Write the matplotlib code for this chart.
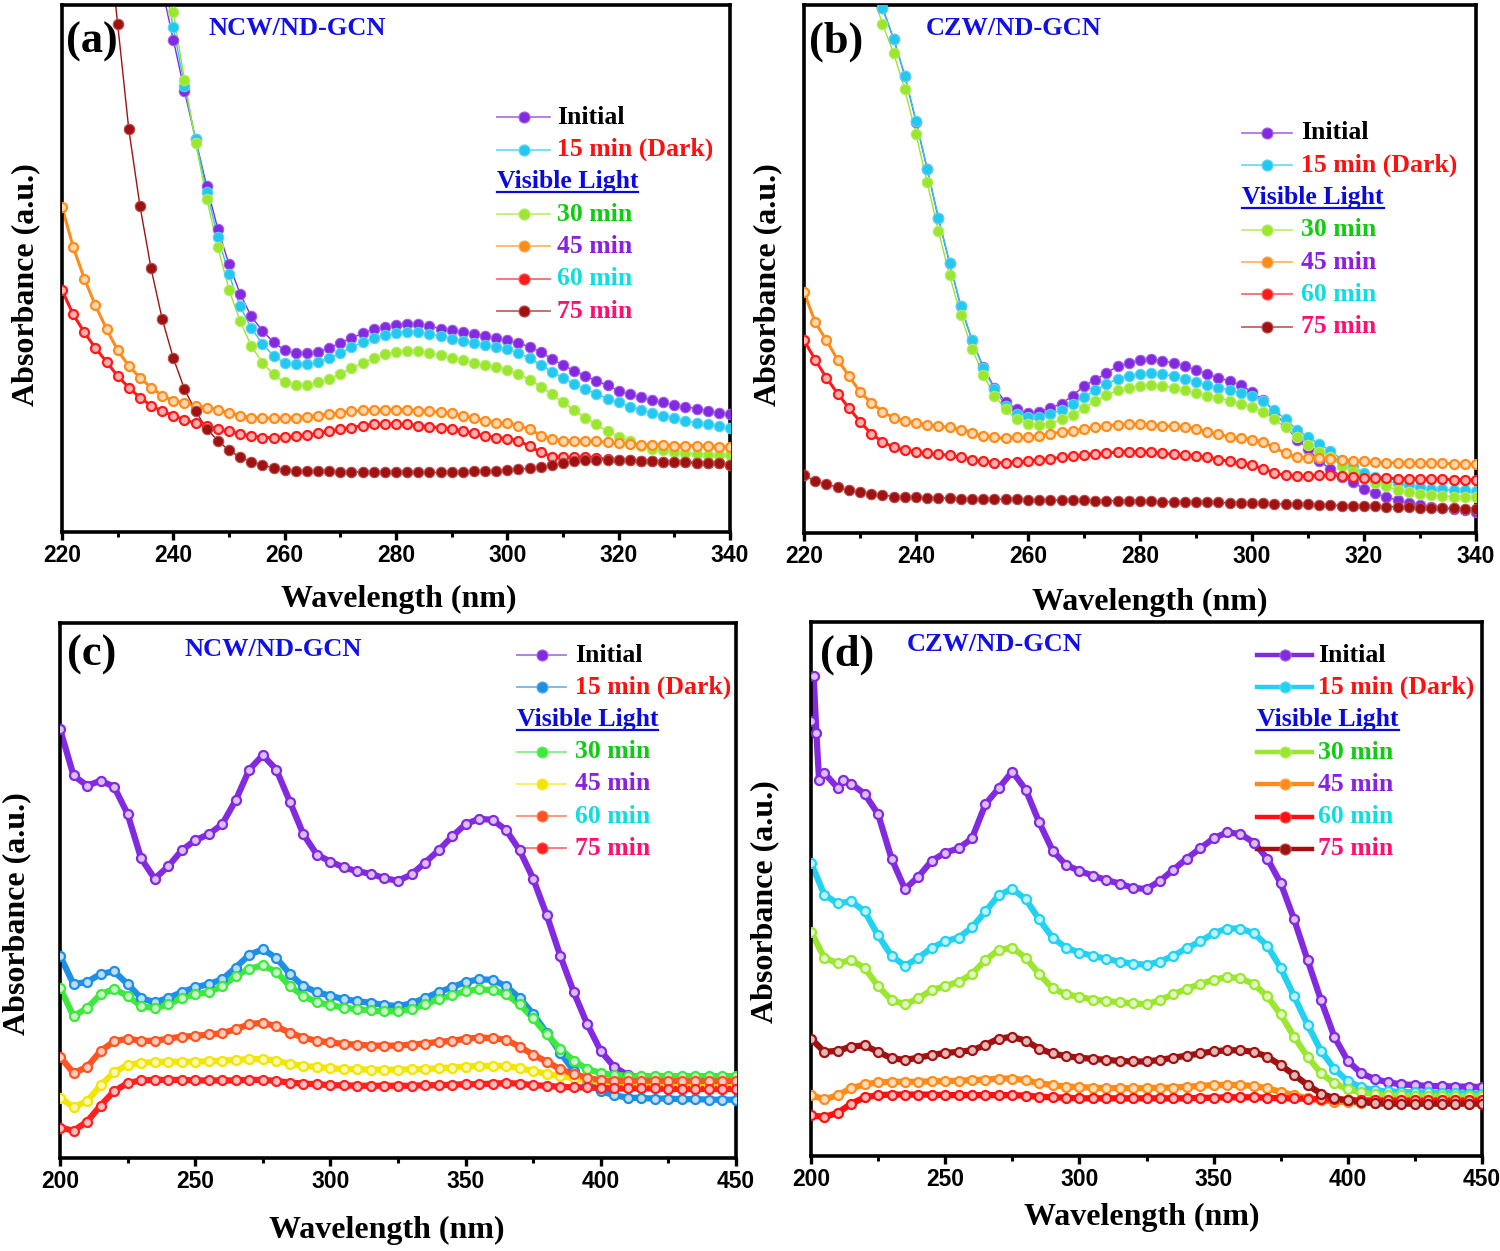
import matplotlib
matplotlib.use("Agg")
import matplotlib.pyplot as plt
import numpy as np

nan = np.nan

# ---------------- data (absorbance, arbitrary units) ----------------
wl_ab = np.arange(220, 341, 2)
wl_cd = np.arange(200, 451, 5)
wl_d_init = [200, 201, 202, 203, 205, 210, 212, 215] + list(range(220, 451, 5))

series_names = ["Initial", "15 min (Dark)", "30 min", "45 min", "60 min", "75 min"]

# (a) NCW/ND-GCN, 220-340 nm
a_init = [nan] * 9 + [1.03, 0.934, 0.837, 0.745, 0.656, 0.575, 0.508, 0.452, 0.409, 0.382, 0.360,
                      0.345, 0.339, 0.339, 0.342, 0.349, 0.359, 0.368, 0.377, 0.385, 0.389,
                      0.392, 0.394, 0.394, 0.391, 0.386, 0.383, 0.379, 0.376, 0.372, 0.368,
                      0.364, 0.359, 0.351, 0.342, 0.328, 0.317, 0.306, 0.296, 0.287, 0.278,
                      0.268, 0.262, 0.256, 0.251, 0.246, 0.241, 0.238, 0.234, 0.230, 0.226, 0.223]
a_dark = [nan] * 9 + [1.06, 0.958, 0.847, 0.745, 0.646, 0.560, 0.489, 0.428, 0.387, 0.357, 0.334,
                      0.321, 0.319, 0.319, 0.323, 0.330, 0.339, 0.351, 0.360, 0.368, 0.374,
                      0.377, 0.379, 0.379, 0.376, 0.372, 0.367, 0.362, 0.359, 0.354, 0.351,
                      0.347, 0.339, 0.330, 0.317, 0.304, 0.293, 0.281, 0.271, 0.262, 0.253,
                      0.246, 0.238, 0.232, 0.226, 0.221, 0.216, 0.211, 0.207, 0.204, 0.201, 0.198]
a_30 = [nan] * 9 + [1.10, 0.986, 0.858, 0.738, 0.632, 0.540, 0.460, 0.400, 0.353, 0.321, 0.299,
                    0.284, 0.278, 0.279, 0.284, 0.291, 0.300, 0.311, 0.321, 0.330, 0.338,
                    0.342, 0.344, 0.343, 0.339, 0.336, 0.330, 0.326, 0.321, 0.317, 0.314,
                    0.308, 0.300, 0.289, 0.276, 0.261, 0.246, 0.231, 0.217, 0.204, 0.191,
                    0.181, 0.172, 0.164, 0.158, 0.155, 0.152, 0.149, 0.148, 0.147, 0.146, 0.146]
a_45 = [0.617, 0.541, 0.481, 0.430, 0.385, 0.345, 0.315, 0.293, 0.274, 0.259,
        0.249, 0.244, 0.240, 0.236, 0.232, 0.226, 0.221, 0.217, 0.216, 0.216,
        0.216, 0.217, 0.219, 0.221, 0.223, 0.226, 0.229, 0.231, 0.232, 0.232,
        0.232, 0.232, 0.230, 0.229, 0.227, 0.225, 0.221, 0.216, 0.211, 0.207,
        0.206, 0.202, 0.195, 0.183, 0.176, 0.173, 0.173, 0.173, 0.172, 0.170,
        0.168, 0.167, 0.166, 0.166, 0.165, 0.164, 0.164, 0.164, 0.163, 0.162, 0.162]
a_60 = [0.459, 0.413, 0.379, 0.349, 0.323, 0.296, 0.274, 0.255, 0.240, 0.229,
        0.221, 0.213, 0.206, 0.201, 0.196, 0.191, 0.186, 0.182, 0.179, 0.179,
        0.180, 0.182, 0.184, 0.187, 0.191, 0.195, 0.198, 0.202, 0.204, 0.205,
        0.205, 0.204, 0.202, 0.200, 0.198, 0.196, 0.192, 0.187, 0.182, 0.179,
        0.177, 0.173, 0.163, 0.151, 0.143, 0.142, 0.142, 0.142, 0.140, 0.138,
        0.137, 0.136, 0.134, 0.134, 0.133, 0.133, 0.132, 0.131, 0.130, 0.130, 0.128]
a_75 = [nan, nan, nan, nan, 1.16, 0.964, 0.764, 0.619, 0.500, 0.404,
        0.330, 0.271, 0.229, 0.196, 0.173, 0.155, 0.142, 0.133, 0.128, 0.121,
        0.118, 0.116, 0.115, 0.115, 0.115, 0.114, 0.114, 0.114, 0.114, 0.113,
        0.113, 0.113, 0.113, 0.113, 0.113, 0.113, 0.114, 0.115, 0.115, 0.116,
        0.118, 0.119, 0.121, 0.123, 0.127, 0.130, 0.134, 0.136, 0.137, 0.137,
        0.137, 0.136, 0.135, 0.134, 0.133, 0.133, 0.132, 0.131, 0.130, 0.130, 0.128]

# (b) CZW/ND-GCN, 220-340 nm
b_init = [nan] * 6 + [1.05, 0.995, 0.936, 0.866,
                      0.779, 0.689, 0.596, 0.511, 0.429, 0.365, 0.315, 0.275, 0.248, 0.235,
                      0.227, 0.230, 0.237, 0.245, 0.260, 0.279, 0.290, 0.303, 0.316, 0.322,
                      0.328, 0.329, 0.326, 0.322, 0.316, 0.309, 0.301, 0.294, 0.288, 0.280,
                      0.267, 0.252, 0.230, 0.203, 0.177, 0.160, 0.136, 0.122, 0.107, 0.096,
                      0.084, 0.075, 0.068, 0.062, 0.056, 0.053, 0.050, 0.047, 0.045, 0.043, 0.040]
b_dark = [nan] * 6 + [1.05, 0.995, 0.936, 0.866,
                      0.781, 0.690, 0.597, 0.512, 0.430, 0.366, 0.313, 0.272, 0.241, 0.226,
                      0.220, 0.220, 0.226, 0.233, 0.245, 0.258, 0.270, 0.282, 0.292, 0.297,
                      0.301, 0.303, 0.301, 0.297, 0.292, 0.286, 0.280, 0.275, 0.271, 0.265,
                      0.260, 0.250, 0.233, 0.215, 0.196, 0.181, 0.169, 0.156, 0.139, 0.127,
                      0.114, 0.107, 0.099, 0.094, 0.090, 0.087, 0.084, 0.083, 0.081, 0.081, 0.079]
b_30 = [nan] * 6 + [1.03, 0.964, 0.909, 0.840,
                    0.755, 0.664, 0.572, 0.488, 0.412, 0.349, 0.300, 0.260, 0.235, 0.215,
                    0.207, 0.205, 0.207, 0.215, 0.224, 0.237, 0.250, 0.261, 0.270, 0.275,
                    0.279, 0.280, 0.279, 0.275, 0.270, 0.265, 0.260, 0.256, 0.250, 0.245,
                    0.239, 0.230, 0.215, 0.200, 0.182, 0.167, 0.154, 0.143, 0.127, 0.117,
                    0.105, 0.094, 0.089, 0.081, 0.077, 0.074, 0.072, 0.070, 0.069, 0.069, 0.068]
b_45 = [0.456, 0.399, 0.365, 0.328, 0.298, 0.267, 0.247, 0.230, 0.218, 0.212,
        0.209, 0.205, 0.202, 0.200, 0.196, 0.190, 0.184, 0.181, 0.179, 0.181,
        0.182, 0.184, 0.188, 0.191, 0.194, 0.197, 0.200, 0.203, 0.205, 0.206,
        0.206, 0.205, 0.203, 0.202, 0.200, 0.197, 0.192, 0.187, 0.182, 0.179,
        0.177, 0.172, 0.162, 0.151, 0.143, 0.142, 0.142, 0.141, 0.139, 0.137,
        0.136, 0.134, 0.133, 0.133, 0.133, 0.133, 0.132, 0.132, 0.131, 0.131, 0.130]
b_60 = [0.365, 0.328, 0.294, 0.264, 0.237, 0.211, 0.188, 0.173, 0.162, 0.157,
        0.153, 0.151, 0.149, 0.147, 0.143, 0.139, 0.136, 0.133, 0.133, 0.134,
        0.136, 0.138, 0.141, 0.143, 0.145, 0.148, 0.150, 0.152, 0.153, 0.154,
        0.154, 0.153, 0.151, 0.149, 0.148, 0.146, 0.143, 0.139, 0.136, 0.132,
        0.128, 0.122, 0.114, 0.109, 0.108, 0.108, 0.109, 0.109, 0.108, 0.107,
        0.105, 0.105, 0.104, 0.103, 0.103, 0.102, 0.102, 0.102, 0.101, 0.101, 0.101]
b_75 = [0.109, 0.099, 0.092, 0.087, 0.081, 0.077, 0.074, 0.072, 0.069, 0.068,
        0.068, 0.066, 0.066, 0.066, 0.065, 0.065, 0.065, 0.064, 0.064, 0.064,
        0.063, 0.063, 0.063, 0.062, 0.062, 0.062, 0.061, 0.061, 0.061, 0.060,
        0.060, 0.060, 0.059, 0.059, 0.059, 0.058, 0.058, 0.058, 0.057, 0.057,
        0.056, 0.056, 0.055, 0.055, 0.054, 0.054, 0.053, 0.053, 0.052, 0.052,
        0.051, 0.051, 0.050, 0.050, 0.049, 0.048, 0.048, 0.047, 0.047, 0.046, 0.045]

# (c) NCW/ND-GCN, 200-450 nm
c_init = [0.802, 0.715, 0.696, 0.705, 0.694, 0.643, 0.560, 0.522, 0.545, 0.575,
          0.594, 0.605, 0.624, 0.669, 0.726, 0.753, 0.726, 0.666, 0.605, 0.567,
          0.554, 0.543, 0.536, 0.531, 0.523, 0.518, 0.530, 0.552, 0.575, 0.601,
          0.624, 0.634, 0.632, 0.613, 0.575, 0.522, 0.454, 0.378, 0.310, 0.250,
          0.200, 0.170, 0.155, 0.148, 0.145, 0.144, 0.142, 0.141, 0.141, 0.140, 0.140]
c_dark = [0.378, 0.325, 0.329, 0.344, 0.349, 0.325, 0.299, 0.291, 0.299, 0.310,
          0.319, 0.325, 0.334, 0.356, 0.380, 0.390, 0.374, 0.344, 0.321, 0.310,
          0.303, 0.297, 0.293, 0.290, 0.286, 0.284, 0.289, 0.299, 0.310, 0.319,
          0.329, 0.334, 0.333, 0.321, 0.299, 0.269, 0.234, 0.197, 0.163, 0.140,
          0.125, 0.117, 0.113, 0.112, 0.111, 0.111, 0.110, 0.110, 0.109, 0.109, 0.109]
c_30 = [0.318, 0.265, 0.280, 0.306, 0.316, 0.303, 0.284, 0.280, 0.287, 0.299,
        0.306, 0.310, 0.321, 0.340, 0.354, 0.360, 0.348, 0.321, 0.303, 0.291,
        0.286, 0.281, 0.278, 0.276, 0.274, 0.274, 0.278, 0.287, 0.297, 0.304,
        0.312, 0.315, 0.314, 0.306, 0.287, 0.261, 0.231, 0.204, 0.182, 0.166,
        0.159, 0.155, 0.154, 0.153, 0.153, 0.153, 0.153, 0.153, 0.153, 0.153, 0.153]
c_45 = [0.113, 0.095, 0.106, 0.136, 0.160, 0.174, 0.178, 0.179, 0.180, 0.180,
        0.180, 0.181, 0.182, 0.183, 0.185, 0.185, 0.182, 0.176, 0.172, 0.170,
        0.168, 0.166, 0.166, 0.165, 0.165, 0.165, 0.166, 0.166, 0.168, 0.169,
        0.171, 0.172, 0.172, 0.172, 0.168, 0.163, 0.157, 0.153, 0.149, 0.145,
        0.142, 0.140, 0.139, 0.138, 0.138, 0.137, 0.137, 0.137, 0.136, 0.136, 0.136]
c_60 = [0.189, 0.159, 0.170, 0.200, 0.218, 0.223, 0.219, 0.219, 0.223, 0.227,
        0.228, 0.231, 0.233, 0.241, 0.250, 0.253, 0.246, 0.234, 0.225, 0.219,
        0.216, 0.213, 0.212, 0.210, 0.210, 0.210, 0.212, 0.214, 0.217, 0.219,
        0.223, 0.225, 0.224, 0.221, 0.208, 0.193, 0.180, 0.166, 0.157, 0.150,
        0.145, 0.144, 0.144, 0.144, 0.144, 0.144, 0.144, 0.144, 0.144, 0.144, 0.144]
c_75 = [0.057, 0.051, 0.068, 0.098, 0.125, 0.140, 0.145, 0.146, 0.146, 0.146,
        0.145, 0.145, 0.145, 0.145, 0.146, 0.146, 0.144, 0.141, 0.139, 0.138,
        0.136, 0.136, 0.135, 0.135, 0.135, 0.135, 0.135, 0.136, 0.136, 0.137,
        0.138, 0.138, 0.139, 0.140, 0.139, 0.136, 0.135, 0.133, 0.132, 0.132,
        0.131, 0.130, 0.130, 0.130, 0.130, 0.129, 0.129, 0.129, 0.129, 0.129, 0.129]

# (d) CZW/ND-GCN, 200-450 nm
d_init = [0.814, 0.898, 0.792, 0.705, 0.717, 0.689, 0.705, 0.697,
          0.678, 0.640, 0.557, 0.500, 0.523, 0.553, 0.568, 0.576, 0.595, 0.659,
          0.689, 0.720, 0.686, 0.625, 0.572, 0.545, 0.534, 0.525, 0.517, 0.510,
          0.502, 0.500, 0.515, 0.536, 0.557, 0.576, 0.595, 0.606, 0.603, 0.587,
          0.557, 0.511, 0.443, 0.367, 0.292, 0.223, 0.178, 0.155, 0.144, 0.138,
          0.134, 0.133, 0.131, 0.131, 0.130, 0.130, 0.129]
d_dark = [0.549, 0.489, 0.473, 0.477, 0.458, 0.413, 0.375, 0.356, 0.371, 0.390,
          0.402, 0.409, 0.428, 0.458, 0.489, 0.500, 0.481, 0.443, 0.409, 0.390,
          0.381, 0.375, 0.369, 0.364, 0.360, 0.358, 0.364, 0.375, 0.389, 0.402,
          0.417, 0.426, 0.426, 0.417, 0.394, 0.352, 0.299, 0.246, 0.197, 0.163,
          0.140, 0.129, 0.123, 0.121, 0.120, 0.119, 0.119, 0.118, 0.118, 0.117, 0.117]
d_30 = [0.420, 0.371, 0.361, 0.367, 0.352, 0.318, 0.292, 0.284, 0.295, 0.311,
        0.318, 0.326, 0.341, 0.367, 0.386, 0.390, 0.371, 0.341, 0.314, 0.303,
        0.298, 0.293, 0.290, 0.288, 0.286, 0.284, 0.292, 0.303, 0.313, 0.322,
        0.330, 0.335, 0.333, 0.322, 0.299, 0.265, 0.223, 0.186, 0.155, 0.136,
        0.125, 0.119, 0.116, 0.114, 0.114, 0.113, 0.113, 0.113, 0.112, 0.112, 0.112]
d_45 = [0.114, 0.106, 0.114, 0.127, 0.134, 0.138, 0.139, 0.139, 0.139, 0.140,
        0.140, 0.141, 0.142, 0.143, 0.145, 0.145, 0.142, 0.136, 0.133, 0.130,
        0.129, 0.128, 0.127, 0.127, 0.127, 0.127, 0.128, 0.128, 0.130, 0.131,
        0.133, 0.133, 0.133, 0.131, 0.127, 0.120, 0.114, 0.108, 0.105, 0.102,
        0.101, 0.100, 0.099, 0.099, 0.099, 0.099, 0.098, 0.098, 0.098, 0.098, 0.098]
d_60 = [0.076, 0.073, 0.081, 0.098, 0.110, 0.114, 0.115, 0.115, 0.115, 0.115,
        0.114, 0.114, 0.114, 0.114, 0.114, 0.114, 0.113, 0.111, 0.110, 0.109,
        0.108, 0.108, 0.108, 0.108, 0.108, 0.108, 0.108, 0.108, 0.108, 0.109,
        0.109, 0.110, 0.110, 0.110, 0.109, 0.108, 0.108, 0.107, 0.106, 0.106,
        0.105, 0.104, 0.104, 0.104, 0.104, 0.104, 0.104, 0.104, 0.104, 0.104, 0.104]
d_75 = [0.220, 0.195, 0.197, 0.205, 0.207, 0.195, 0.183, 0.180, 0.184, 0.189,
        0.193, 0.195, 0.198, 0.208, 0.220, 0.223, 0.216, 0.201, 0.192, 0.187,
        0.184, 0.182, 0.180, 0.178, 0.177, 0.177, 0.180, 0.184, 0.188, 0.192,
        0.196, 0.198, 0.198, 0.195, 0.186, 0.170, 0.152, 0.133, 0.117, 0.108,
        0.104, 0.101, 0.099, 0.098, 0.098, 0.098, 0.098, 0.098, 0.098, 0.098, 0.098]

# ---------------- style ----------------
SERIF = "Liberation Serif"
SANS = "Liberation Sans"

purple = "#8329e0"
colors_ab = [purple, "#22c8f0", "#9be62e", "#ff8c1a", "#ff1a1a", "#a01212"]
colors_c = [purple, "#1e8fe6", "#3ee83e", "#f2e600", "#ff5522", "#ff2020"]
colors_d = [purple, "#22d2f0", "#9be62e", "#ff8c1a", "#ff1010", "#a01212"]

legend_text_colors = ["black", "#ff1010", "#10cc10", "#8a20e0", "#10dde0", "#ff1070"]


def lighten(c, f):
    rgb = np.array(matplotlib.colors.to_rgb(c))
    return tuple(rgb + (1 - rgb) * f)


def draw_series(ax, x, y, color, kind):
    if kind == "bead":
        ax.plot(x, y, "-", color=color, lw=1.0, zorder=2)
        ax.plot(x, y, "o", ms=7.5, mfc=color, mec=lighten(color, 0.25), mew=0.8, zorder=3)
    elif kind == "ring":
        ax.plot(x, y, "-", color=color, lw=2.2, zorder=2)
        ax.plot(x, y, "o", ms=6.5, mfc=lighten(color, 0.65), mec=color, mew=1.6, zorder=3)
    else:  # thick ring band for the wide-range spectra
        ax.plot(x, y, "-", color=color, lw=4.5, zorder=2)
        ax.plot(x, y, "o", ms=6.5, mfc=lighten(color, 0.7), mec=color, mew=1.6, zorder=3)


def draw_legend(ax, colors, x0, x1, xt, ytop, dy, thick):
    rows = [0, 1, None, 2, 3, 4, 5]
    for r, idx in enumerate(rows):
        yy = ytop - r * dy
        if idx is None:
            t = ax.text(x0, yy, "Visible Light", transform=ax.transAxes, fontsize=18.5,
                        fontweight="bold", family=SERIF, color="#0a0ae0", va="center", ha="left")
            fig.canvas.draw()
            bb = t.get_window_extent(fig.canvas.get_renderer()).transformed(ax.transAxes.inverted())
            ax.plot([bb.x0, bb.x1], [bb.y0 + 0.002] * 2, color="#0a0ae0", lw=1.6,
                    transform=ax.transAxes, clip_on=False)
            continue
        c = colors[idx]
        if thick:
            ax.plot([x0, x1], [yy, yy], color=c, lw=3.2, transform=ax.transAxes, clip_on=False)
        else:
            ax.plot([x0, x1], [yy, yy], color=lighten(c, 0.35), lw=1.3, transform=ax.transAxes,
                    clip_on=False)
        ax.plot([(x0 + x1) / 2], [yy], "o", ms=8, mfc=c, mec=lighten(c, 0.3), mew=0.8,
                transform=ax.transAxes, clip_on=False)
        ax.text(xt, yy, series_names[idx], transform=ax.transAxes, fontsize=18.5,
                fontweight="bold", family=SERIF, color=legend_text_colors[idx],
                va="center", ha="left")


def setup_axes(ax, xlim, major, minor, letter, name, name_xy, letter_xy, xlab_xy, ylab_xy):
    ax.set_xlim(*xlim)
    ax.set_ylim(0, 1)
    ax.set_yticks([])
    ax.set_xticks(np.arange(xlim[0], xlim[1] + 1, major))
    ax.set_xticks(np.arange(xlim[0] + minor, xlim[1], major), minor=True)
    ax.tick_params(axis="x", which="major", direction="out", length=6, width=2.4, pad=3,
                   labelsize=16.5, top=False)
    ax.tick_params(axis="x", which="minor", direction="out", length=3.5, width=2.2, top=False)
    for lab in ax.get_xticklabels():
        lab.set_fontweight("bold")
        lab.set_family(SANS)
    for sp in ax.spines.values():
        sp.set_linewidth(2.6)
    ax.set_xlabel("Wavelength (nm)", fontsize=23, fontweight="bold", family=SERIF)
    ax.xaxis.set_label_coords(*xlab_xy)
    ax.set_ylabel("Absorbance (a.u.)", fontsize=23, fontweight="bold", family=SERIF)
    ax.yaxis.set_label_coords(*ylab_xy)
    ax.text(*letter_xy, letter, transform=ax.transAxes, fontsize=32, fontweight="bold",
            family=SERIF, ha="center", va="center")
    ax.text(*name_xy, name, transform=ax.transAxes, fontsize=19, fontweight="bold",
            family=SERIF, color="#1010e6", ha="center", va="center")


W, H = 1500, 1251
fig = plt.figure(figsize=(W / 100, H / 100), dpi=100)


def px_rect(left, right, top, bottom):
    return [left / W, 1 - bottom / H, (right - left) / W, (bottom - top) / H]


ax_a = fig.add_axes(px_rect(62, 730, 5, 532))
ax_b = fig.add_axes(px_rect(804, 1476, 5, 533))
ax_c = fig.add_axes(px_rect(60, 736, 623, 1158))
ax_d = fig.add_axes(px_rect(811, 1482, 622, 1156))

# panel (a)
for y, c, k in zip([a_init, a_dark, a_30, a_45, a_60, a_75], colors_ab,
                   ["bead", "bead", "bead", "ring", "ring", "bead"]):
    draw_series(ax_a, wl_ab, y, c, k)
setup_axes(ax_a, (220, 340), 20, 10, "(a)", "NCW/ND-GCN", (0.352, 0.956), (0.045, 0.93),
           (0.504, -0.10), (-0.033, 0.47))
draw_legend(ax_a, colors_ab, 0.651, 0.731, 0.741, 0.787, 0.0613, False)

# panel (b)
for y, c, k in zip([b_init, b_dark, b_30, b_45, b_60, b_75], colors_ab,
                   ["bead", "bead", "bead", "ring", "ring", "bead"]):
    draw_series(ax_b, wl_ab, y, c, k)
setup_axes(ax_b, (220, 340), 20, 10, "(b)", "CZW/ND-GCN", (0.3125, 0.956), (0.048, 0.93),
           (0.515, -0.104), (-0.033, 0.47))
draw_legend(ax_b, colors_ab, 0.652, 0.726, 0.740, 0.758, 0.0612, False)

# panel (c)
for y, c in zip([c_init, c_dark, c_30, c_45, c_60, c_75], colors_c):
    draw_series(ax_c, wl_cd, y, c, "band")
setup_axes(ax_c, (200, 450), 50, 25, "(c)", "NCW/ND-GCN", (0.315, 0.95), (0.047, 0.94),
           (0.484, -0.109), (-0.042, 0.456))
draw_legend(ax_c, colors_c, 0.676, 0.749, 0.762, 0.940, 0.0602, False)

# panel (d)
draw_series(ax_d, wl_d_init, d_init, colors_d[0], "band")
for y, c in zip([d_dark, d_30, d_45, d_60, d_75], colors_d[1:]):
    draw_series(ax_d, wl_cd, y, c, "band")
setup_axes(ax_d, (200, 450), 50, 25, "(d)", "CZW/ND-GCN", (0.274, 0.957), (0.054, 0.938),
           (0.493, -0.087), (-0.048, 0.476))
draw_legend(ax_d, colors_d, 0.665, 0.747, 0.756, 0.938, 0.0605, True)

fig.savefig("out.png", dpi=100)
